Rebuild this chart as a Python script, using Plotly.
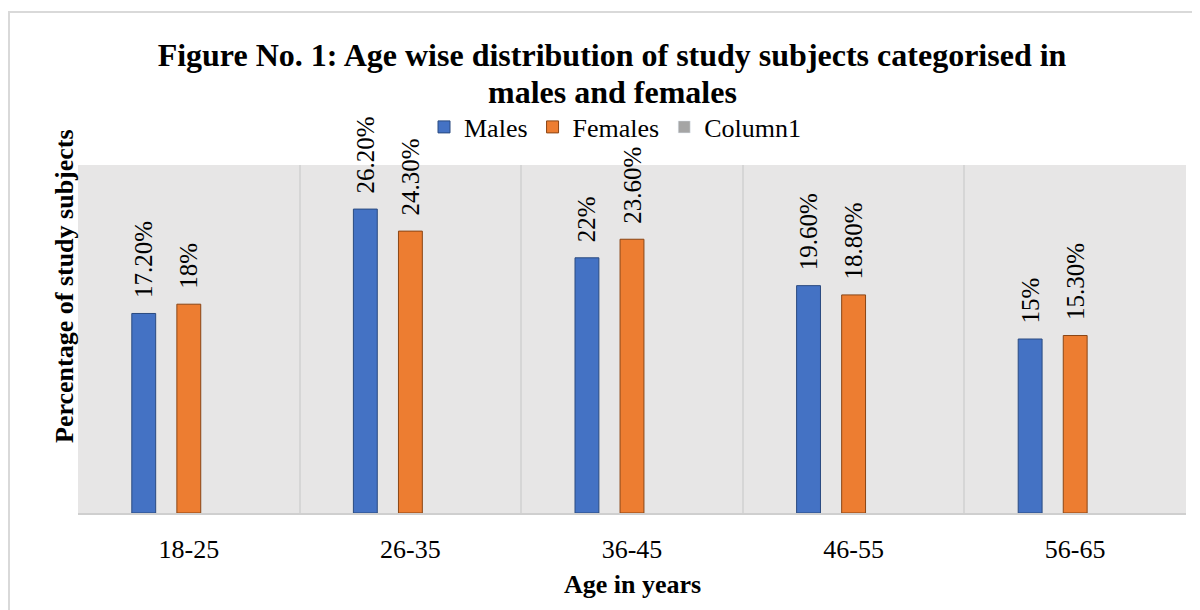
import plotly.graph_objects as go

categories = ["18-25", "26-35", "36-45", "46-55", "56-65"]
males = [17.2, 26.2, 22.0, 19.6, 15.0]
females = [18.0, 24.3, 23.6, 18.8, 15.3]
column1 = [None, None, None, None, None]
male_labels = ["17.20%", "26.20%", "22%", "19.60%", "15%"]
female_labels = ["18%", "24.30%", "23.60%", "18.80%", "15.30%"]
title_lines = ["Figure No. 1: Age wise distribution of study subjects categorised in",
               "males and females"]

FONT = "Liberation Serif"
W, H = 1192, 602
L, R, T, B = 70, 14, 157, 97
pw, ph = W - L - R, H - T - B

def px(x):
    return (x - L) / pw

def py(y):
    return (H - B - y) / ph

fig = go.Figure()
fig.add_trace(go.Bar(
    name="Males", x=categories, y=males,
    text=["  " + t for t in male_labels], textposition="outside", textangle=-90,
    textfont=dict(family=FONT, size=25, color="#000000"),
    marker=dict(color="#4472c4", line=dict(color="#2a4a80", width=1)),
    cliponaxis=False, constraintext="none",
))
fig.add_trace(go.Bar(
    name="Females", x=categories, y=females,
    text=["  " + t for t in female_labels], textposition="outside", textangle=-90,
    textfont=dict(family=FONT, size=25, color="#000000"),
    marker=dict(color="#ed7d31", line=dict(color="#8a4515", width=1)),
    cliponaxis=False, constraintext="none",
))
fig.add_trace(go.Bar(
    name="Column1", x=categories, y=column1,
    marker=dict(color="#a5a5a5"),
))

fig.update_layout(
    width=W, height=H,
    margin=dict(l=L, r=R, t=T, b=B),
    paper_bgcolor="white", plot_bgcolor="#e7e6e6",
    barmode="group", bargap=0.39, bargroupgap=0.47,
    font=dict(family=FONT, color="#000000"),
    title=dict(
        text="<b>" + title_lines[0] + "</b>",
        x=604 / W, xanchor="center", y=1 - 47 / H, yanchor="middle",
        font=dict(family=FONT, size=32, color="#000000"),
    ),
    legend=dict(
        orientation="h", x=px(607), xanchor="center", y=py(119), yanchor="middle",
        font=dict(family=FONT, size=26, color="#000000"),
        bgcolor="rgba(0,0,0,0)", traceorder="normal",
    ),
    showlegend=True,
    shapes=[dict(
        type="rect", xref="paper", yref="paper",
        x0=px(1), x1=px(W + 10), y0=py(H + 10), y1=py(4),
        line=dict(color="#d9d9d9", width=2), fillcolor="rgba(0,0,0,0)", layer="below",
    )],
    annotations=[
        dict(text="<b>" + title_lines[1] + "</b>",
             xref="paper", yref="paper", x=px(604), y=py(84),
             xanchor="center", yanchor="middle", showarrow=False,
             font=dict(family=FONT, size=32, color="#000000")),
        dict(text="<b>Percentage of study subjects</b>", textangle=-90,
             xref="paper", yref="paper", x=px(56), y=py(278),
             xanchor="center", yanchor="middle", showarrow=False,
             font=dict(family=FONT, size=26, color="#000000")),
        dict(text="<b>Age in years</b>",
             xref="paper", yref="paper", x=px(624), y=py(576),
             xanchor="center", yanchor="middle", showarrow=False,
             font=dict(family=FONT, size=26, color="#000000")),
    ],
)
fig.update_xaxes(
    type="category", tickson="boundaries", showgrid=True, gridcolor="#d6d6d6", gridwidth=1.5,
    showline=True, linecolor="#cfcfcf", linewidth=2, ticks="",
    tickfont=dict(family=FONT, size=26, color="#000000"), ticklabelstandoff=12,
)
fig.update_yaxes(
    range=[0, 30], showgrid=False, showticklabels=False, zeroline=False, ticks="",
)

fig.write_html("out.html")
